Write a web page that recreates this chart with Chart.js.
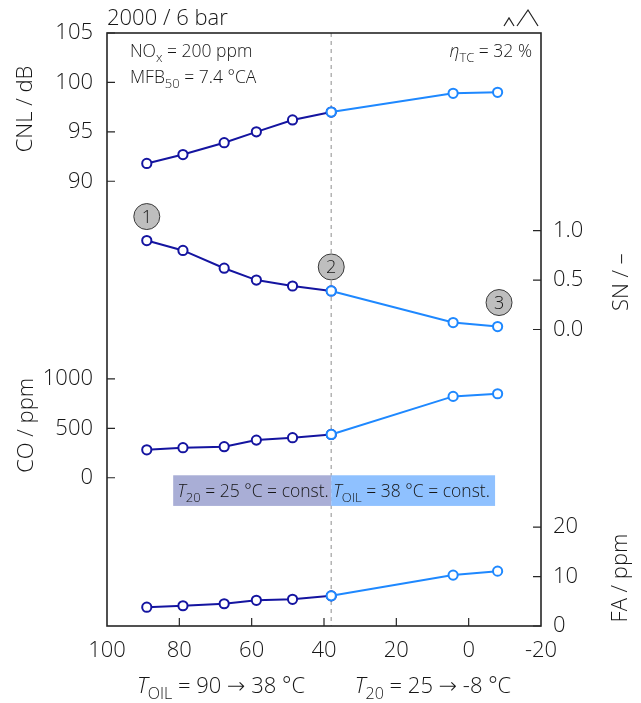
<!DOCTYPE html>
<html>
<head>
<meta charset="utf-8">
<script src="https://cdn.jsdelivr.net/npm/chart.js@4.4.1/dist/chart.umd.min.js"></script>
<style>
  html, body { margin: 0; padding: 0; background: #fff; }
  #wrap { width: 641px; height: 703px; position: relative; }
</style>
</head>
<body>
<div id="wrap"><canvas id="chart"></canvas></div>
<script>
/* ---- Data ---- */
// oil warm-up sweep (T_OIL 90 -> 38 °C), then cold intake sweep (T_20 25 -> -8 °C)
const oilTemp  = [89, 79, 67.6, 58.7, 48.7, 38];
const coldTemp = [38, 4.3, -8];

const cnlOil  = [91.8, 92.7, 93.9, 95.0, 96.2, 97.0];
const cnlCold = [97.0, 98.9, 99.0];
const snOil   = [0.90, 0.80, 0.62, 0.50, 0.44, 0.39];
const snCold  = [0.39, 0.07, 0.03];
const coOil   = [283, 304, 314, 381, 405, 438];
const coCold  = [438, 823, 850];
const faOil   = [3.8, 4.1, 4.5, 5.2, 5.4, 6.1];
const faCold  = [6.1, 10.3, 11.1];

const xTicks   = [100, 80, 60, 40, 20, 0, -20];
const cnlTicks = [90, 95, 100, 105];
const coTicks  = [0, 500, 1000];
const snTicks  = [0.0, 0.5, 1.0];
const faTicks  = [0, 10, 20];

/* ---- Look ---- */
const FAMILY = "'Open Sans', 'DejaVu Sans', sans-serif";
const INK = "#161616";
const DARK = "#1414a0";
const LIGHT = "#1e88ff";
const TICK_PX = 22;
const TITLE_PX = 22;
const NOTE_PX = 17.5;

// each quantity gets its own band of the shared plot
const R = { x: [-20, 100], cnl: [45, 105], sn: [-3, 3], co: [-1500, 4500], fa: [0, 120] };

function remap(v, from, to){
  return to[0] + (v - from[0]) * (to[1] - to[0]) / (from[1] - from[0]);
}

// left axis carries CNL and CO labels, right axis carries SN and FA labels
const leftTicks = [
  ...coTicks.map(v => ({ value: remap(v, R.co, R.cnl), label: String(v) })),
  ...cnlTicks.map(v => ({ value: v, label: String(v) }))
];
const rightTicks = [
  ...faTicks.map(v => ({ value: remap(v, R.fa, R.sn), label: String(v) })),
  ...snTicks.map(v => ({ value: v, label: v.toFixed(1) }))
];

function series(label, xs, ys, axis, color){
  return {
    label,
    data: xs.map((x, i) => ({ x, y: ys[i] })),
    yAxisID: axis,
    borderColor: color,
    backgroundColor: "#fff",
    pointBackgroundColor: "#fff",
    pointBorderColor: color,
    borderWidth: 2,
    pointRadius: 4.6,
    pointBorderWidth: 2,
    tension: 0
  };
}

/* ---- Rich text (italic / subscript runs) ---- */
function fontFor(p, size){
  const fs = p.sub ? Math.round(size * 0.72) : size;
  return `${p.it ? "italic " : ""}300 ${fs}px ${FAMILY}`;
}
function drawRich(ctx, parts, x, y, size, align){
  ctx.save();
  ctx.textBaseline = "alphabetic";
  ctx.textAlign = "left";
  let total = 0;
  const widths = parts.map(p => { ctx.font = fontFor(p, size); const w = ctx.measureText(p.t).width; total += w; return w; });
  let cx = align === "right" ? x - total : align === "center" ? x - total / 2 : x;
  parts.forEach((p, i) => {
    ctx.font = fontFor(p, size);
    ctx.fillText(p.t, cx, y + (p.sub ? size * 0.28 : 0));
    cx += widths[i];
  });
  ctx.restore();
}

/* ---- Decorations ---- */
const decor = {
  id: "decor",
  beforeDatasetsDraw(chart){
    const { ctx, chartArea: a, scales } = chart;
    const x = scales.x, co = scales.yCO;
    ctx.save();
    // split between the two sweeps
    const xs = x.getPixelForValue(38);
    ctx.strokeStyle = "#b4b4b4";
    ctx.lineWidth = 1.5;
    ctx.setLineDash([4, 4]);
    ctx.beginPath(); ctx.moveTo(xs, a.top); ctx.lineTo(xs, a.bottom); ctx.stroke();
    ctx.setLineDash([]);

    // constant-condition bands
    const yt = co.getPixelForValue(25), yb = co.getPixelForValue(-285);
    const x0 = x.getPixelForValue(81.7), x2 = x.getPixelForValue(-7.3);
    ctx.fillStyle = "#a9aed6";
    ctx.fillRect(x0, yt, xs - x0, yb - yt);
    ctx.fillStyle = "#8fc1ff";
    ctx.fillRect(xs, yt, x2 - xs, yb - yt);
    ctx.fillStyle = INK;
    const ty = yb - 9;
    drawRich(ctx, [{ t: "T", it: true }, { t: "20", sub: true }, { t: " = 25 °C = const." }], x0 + 4, ty, NOTE_PX, "left");
    drawRich(ctx, [{ t: "T", it: true }, { t: "OIL", sub: true }, { t: " = 38 °C = const." }], xs + 2, ty, NOTE_PX, "left");
    ctx.restore();
  },
  afterDatasetsDraw(chart){
    const { ctx, scales } = chart;
    const marks = [[1, 89, 0.90], [2, 38, 0.39], [3, -8.4, 0.03]];
    ctx.save();
    marks.forEach(([n, xv, yv]) => {
      const px = scales.x.getPixelForValue(xv);
      const py = scales.ySN.getPixelForValue(yv) - 24;
      ctx.beginPath();
      ctx.arc(px, py, 13, 0, Math.PI * 2);
      ctx.fillStyle = "#bebebe";
      ctx.fill();
      ctx.lineWidth = 1;
      ctx.strokeStyle = "#3a3a3a";
      ctx.stroke();
      ctx.fillStyle = INK;
      ctx.font = `300 18px ${FAMILY}`;
      ctx.textAlign = "center";
      ctx.textBaseline = "middle";
      ctx.fillText(String(n), px, py + 1);
    });
    ctx.restore();
  },
  afterDraw(chart){
    const { ctx, chartArea: a, scales } = chart;
    ctx.save();
    // frame
    ctx.strokeStyle = "#262626";
    ctx.lineWidth = 1.6;
    ctx.strokeRect(a.left, a.top, a.right - a.left, a.bottom - a.top);

    // inward tick marks
    ctx.lineWidth = 1.2;
    ctx.beginPath();
    leftTicks.forEach(t => { const y = scales.yCNL.getPixelForValue(t.value); ctx.moveTo(a.left, y); ctx.lineTo(a.left + 8, y); });
    rightTicks.forEach(t => { const y = scales.ySN.getPixelForValue(t.value); ctx.moveTo(a.right, y); ctx.lineTo(a.right - 8, y); });
    xTicks.slice(1, -1).forEach(v => { const x = scales.x.getPixelForValue(v); ctx.moveTo(x, a.bottom); ctx.lineTo(x, a.bottom - 8); });
    ctx.stroke();

    ctx.fillStyle = INK;
    // axis titles, reading upwards
    const vTitle = (text, x, y) => {
      ctx.save();
      ctx.translate(x, y);
      ctx.rotate(-Math.PI / 2);
      ctx.font = `300 ${TITLE_PX}px ${FAMILY}`;
      ctx.textAlign = "center";
      ctx.textBaseline = "middle";
      ctx.fillText(text, 0, 0);
      ctx.restore();
    };
    const mid = (s, a0, b0) => (s.getPixelForValue(a0) + s.getPixelForValue(b0)) / 2;
    vTitle("CNL / dB", 26, 109);
    vTitle("CO / ppm", 27, mid(scales.yCO, 0, 1000) - 3);
    vTitle("SN / \u2013", 622, mid(scales.ySN, 0, 1) + 2);
    vTitle("FA / ppm", 621, 578);

    // x titles
    drawRich(ctx, [{ t: "T", it: true }, { t: "OIL", sub: true }, { t: " = 90 \u2192 38 °C" }], 221, 693, TITLE_PX, "center");
    drawRich(ctx, [{ t: "T", it: true }, { t: "20", sub: true }, { t: " = 25 \u2192 -8 °C" }], 433, 693, TITLE_PX, "center");

    // operating point and settings
    drawRich(ctx, [{ t: "2000 / 6 bar" }], a.left, a.top - 8, TITLE_PX, "left");
    drawRich(ctx, [{ t: "NO" }, { t: "x", sub: true }, { t: " = 200 ppm" }], a.left + 23, a.top + 24, NOTE_PX, "left");
    drawRich(ctx, [{ t: "MFB" }, { t: "50", sub: true }, { t: " = 7.4 °CA" }], a.left + 23, a.top + 50, NOTE_PX, "left");
    drawRich(ctx, [{ t: "\u03b7", it: true }, { t: "TC", sub: true }, { t: " = 32 %" }], a.right - 9, a.top + 24, NOTE_PX, "right");

    // engine mode symbol
    ctx.strokeStyle = "#222";
    ctx.lineWidth = 1.2;
    ctx.beginPath();
    ctx.moveTo(a.right - 37, a.top - 7); ctx.lineTo(a.right - 32, a.top - 15); ctx.lineTo(a.right - 27, a.top - 7);
    ctx.moveTo(a.right - 24, a.top - 7); ctx.lineTo(a.right - 13, a.top - 23); ctx.lineTo(a.right - 3, a.top - 7);
    ctx.stroke();
    ctx.restore();
  }
};

/* ---- Chart ---- */
const tickFont = { family: FAMILY, size: TICK_PX, weight: 300 };

new Chart(document.getElementById("chart"), {
  type: "line",
  data: {
    datasets: [
      series("CNL cold", coldTemp, cnlCold, "yCNL", LIGHT),
      series("SN cold", coldTemp, snCold, "ySN", LIGHT),
      series("CO cold", coldTemp, coCold, "yCO", LIGHT),
      series("FA cold", coldTemp, faCold, "yFA", LIGHT),
      series("CNL oil", oilTemp, cnlOil, "yCNL", DARK),
      series("SN oil", oilTemp, snOil, "ySN", DARK),
      series("CO oil", oilTemp, coOil, "yCO", DARK),
      series("FA oil", oilTemp, faOil, "yFA", DARK)
    ]
  },
  options: {
    responsive: true,
    maintainAspectRatio: false,
    animation: false,
    layout: { padding: { top: 33, left: 0, right: 0, bottom: 0 } },
    plugins: { legend: { display: false }, tooltip: { enabled: false } },
    scales: {
      x: {
        type: "linear", reverse: true, min: R.x[0], max: R.x[1],
        afterBuildTicks: s => { s.ticks = xTicks.map(v => ({ value: v })); },
        afterFit: s => { s.height = 77; },
        ticks: { autoSkip: false, maxRotation: 0, padding: 12, color: INK, font: tickFont },
        grid: { display: false, drawTicks: false },
        border: { display: false }
      },
      yCNL: {
        position: "left", min: R.cnl[0], max: R.cnl[1],
        afterBuildTicks: s => { s.ticks = leftTicks.map(t => ({ value: t.value })); },
        afterFit: s => { s.width = 107; },
        ticks: { autoSkip: false, padding: 14, color: INK, font: tickFont, callback: (v, i) => leftTicks[i].label },
        grid: { display: false, drawTicks: false },
        border: { display: false }
      },
      ySN: {
        position: "right", min: R.sn[0], max: R.sn[1],
        afterBuildTicks: s => { s.ticks = rightTicks.map(t => ({ value: t.value })); },
        afterFit: s => { s.width = 100; },
        ticks: { autoSkip: false, padding: 12, color: INK, font: tickFont, callback: (v, i) => rightTicks[i].label },
        grid: { display: false, drawTicks: false },
        border: { display: false }
      },
      yCO: { display: false, min: R.co[0], max: R.co[1] },
      yFA: { display: false, min: R.fa[0], max: R.fa[1] }
    }
  },
  plugins: [decor]
});
</script>
</body>
</html>
